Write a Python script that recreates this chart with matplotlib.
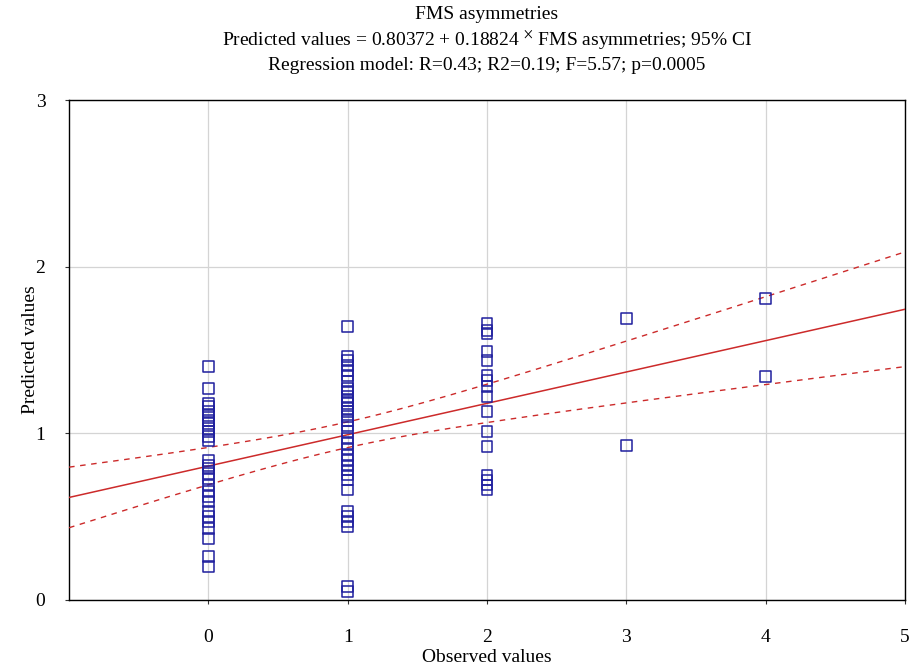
import numpy as np
import matplotlib
matplotlib.use("Agg")
import matplotlib.pyplot as plt

plt.rcParams['font.family'] = ['Liberation Serif', 'DejaVu Serif']
plt.rcParams['mathtext.fontset'] = 'stix'

# Predicted values grouped by observed FMS asymmetry score
observed_levels = [0, 1, 2, 3, 4]
pred_at_0 = [1.40, 1.27, 1.18, 1.16, 1.13, 1.11, 1.08, 1.06, 1.03, 1.01, 0.98, 0.96,
             0.84, 0.81, 0.79, 0.76, 0.73, 0.69, 0.65, 0.62, 0.59, 0.53, 0.50, 0.47,
             0.43, 0.37, 0.26, 0.20]
pred_at_1 = [1.64, 1.46, 1.44, 1.41, 1.38, 1.35, 1.31, 1.27, 1.25, 1.22, 1.20, 1.18,
             1.15, 1.13, 1.10, 1.08, 1.05, 1.01, 0.97, 0.94, 0.91, 0.87, 0.84, 0.81,
             0.78, 0.75, 0.72, 0.66, 0.53, 0.50, 0.47, 0.44, 0.08, 0.05]
pred_at_2 = [1.66, 1.62, 1.60, 1.49, 1.44, 1.35, 1.32, 1.28, 1.22, 1.13, 1.01, 0.92,
             0.75, 0.72, 0.69, 0.66]
pred_at_3 = [1.69, 0.93]
pred_at_4 = [1.81, 1.34]

intercept = 0.80372
slope = 0.18824
t_crit = 1.99  # two-sided 95%, df ~ 80

x_ticks = [0, 1, 2, 3, 4, 5]
y_ticks = [0, 1, 2, 3]

groups = [pred_at_0, pred_at_1, pred_at_2, pred_at_3, pred_at_4]
x_pts = np.concatenate([[lvl] * len(g) for lvl, g in zip(observed_levels, groups)]).astype(float)
y_pts = np.concatenate(groups)

fig = plt.figure(figsize=(9.15, 6.70), dpi=100)
ax = fig.add_axes([0.0755, 0.1045, 0.9135, 0.746])

ax.set_xlim(-1, 5)
ax.set_ylim(0, 3)

# Regression line with 95% confidence band
n = len(x_pts)
resid = y_pts - (intercept + slope * x_pts)
s = np.sqrt(np.sum(resid ** 2) / (n - 2))
x_mean = x_pts.mean()
sxx = np.sum((x_pts - x_mean) ** 2)
xx = np.linspace(-1, 5, 300)
fit = intercept + slope * xx
half = t_crit * s * np.sqrt(1.0 / n + (xx - x_mean) ** 2 / sxx)

red = '#cc2a2a'
ax.plot(xx, fit, color=red, lw=1.1, zorder=3)
ax.plot(xx, fit + half, color=red, lw=1.0, ls=(0, (4, 4)), zorder=3)
ax.plot(xx, fit - half, color=red, lw=1.0, ls=(0, (4, 4)), zorder=3)

ax.scatter(x_pts, y_pts, marker='s', s=62, facecolors='none',
           edgecolors='#1f1f9e', linewidths=1.1, zorder=4)

fs = 14
ax.set_xticks(x_ticks)
ax.set_yticks(y_ticks)
ax.set_xticklabels([str(v) for v in x_ticks], fontsize=fs)
ax.set_yticklabels([str(v) for v in y_ticks], fontsize=fs)
ax.grid(True, color='#d4d4d4', lw=0.9)
ax.set_axisbelow(True)
ax.tick_params(axis='both', direction='out', length=3, width=0.8, color='#333333')
ax.tick_params(axis='x', pad=18)
ax.tick_params(axis='y', pad=14)
for sp in ax.spines.values():
    sp.set_color('black')
    sp.set_linewidth(1.0)

ax.set_xlabel('Observed values', fontsize=fs)
ax.set_ylabel('Predicted values', fontsize=fs)
ax.xaxis.set_label_coords(0.5, -0.098)
ax.yaxis.set_label_coords(-0.036, 0.5)

cx = 0.0755 + 0.9135 / 2
fig.text(cx, 0.978, 'FMS asymmetries', ha='center', va='center', fontsize=fs)
fig.text(cx, 0.940,
         r'Predicted values = 0.80372 + 0.18824 $^{\times}$ FMS asymmetries; 95% CI',
         ha='center', va='center', fontsize=fs)
fig.text(cx, 0.902, 'Regression model: R=0.43; R2=0.19; F=5.57; p=0.0005',
         ha='center', va='center', fontsize=fs)

fig.savefig('out.png', dpi=100, facecolor='white')
